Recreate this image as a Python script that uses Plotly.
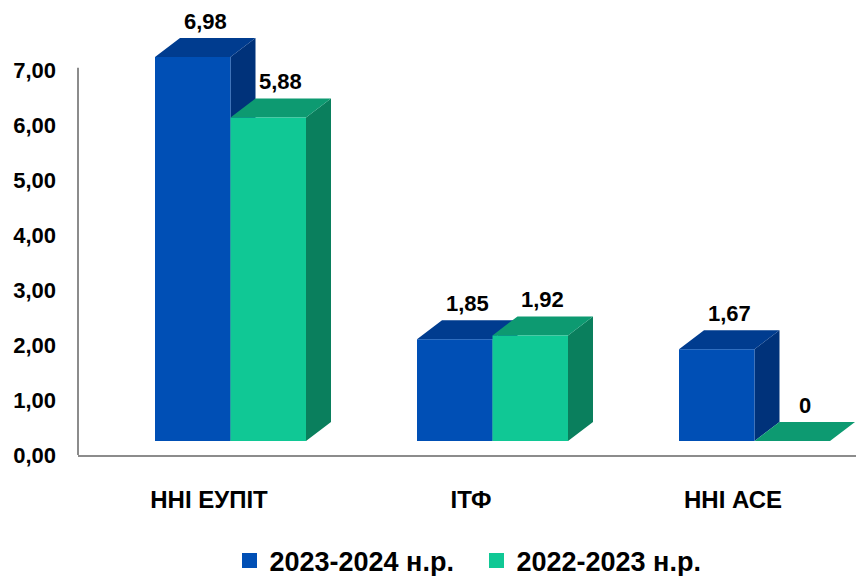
import plotly.graph_objects as go

# данні
categories = ["ННІ ЕУПІТ", "ІТФ", "ННІ АСЕ"]
series_names = ["2023-2024 н.р.", "2022-2023 н.р."]
values_2324 = [6.98, 1.85, 1.67]
values_2223 = [5.88, 1.92, 0]
y_ticks = [0, 1, 2, 3, 4, 5, 6, 7]

# сторінка має відступ body 8px, тому фігура на 8px менша
W, H = 856, 568
M_L, M_R, M_T, M_B = 70, 0, 0, 121
PX_X = (W - M_L - M_R) / len(categories)   # пікселів на категорію
PX_Y = 55                                 # пікселів на одиницю значення
Y_TOP = (H - M_T - M_B) / PX_Y
FLOOR = 14 / PX_Y                         # стовпці трохи вище осі
DX, DY = 25 / PX_X, 19 / PX_Y             # глибина
BAR_W = 75.5 / PX_X
OFFSETS = [-54 / PX_X, 21.5 / PX_X]

colors = [
    dict(front="#004FB5", top="#003C8F", side="#00327A"),
    dict(front="#10C895", top="#0D9A71", side="#0A7F5D"),
]

FONT = "Liberation Sans, Arial, sans-serif"

fig = go.Figure()
annotations = []

for s, vals in enumerate([values_2324, values_2223]):
    c = colors[s]
    faces = {"side": ([], []), "top": ([], []), "front": ([], [])}
    for i, v in enumerate(vals):
        x0 = i + OFFSETS[s]
        x1 = x0 + BAR_W
        fx, fy = faces["front"]
        fx += [x0, x1, x1, x0, x0, None]
        fy += [0, 0, v, v, 0, None]
        tx, ty = faces["top"]
        tx += [x0, x1, x1 + DX, x0 + DX, x0, None]
        ty += [v, v, v + DY, v + DY, v, None]
        sx, sy = faces["side"]
        sx += [x1, x1 + DX, x1 + DX, x1, x1, None]
        sy += [0, DY, v + DY, v, 0, None]
        annotations.append(dict(
            x=x0 + BAR_W / 2 + DX / 2, y=v + DY, xref="x", yref="y2",
            text=f"{v:.2f}".replace(".", ",") if v else "0",
            showarrow=False, yanchor="middle", yshift=17,
            font=dict(family=FONT, size=22, color="black", weight="bold"),
        ))
    for face in ["side", "top", "front"]:
        xs, ys = faces[face]
        fig.add_trace(go.Scatter(
            x=xs, y=ys, yaxis="y2", mode="lines", fill="toself",
            fillcolor=c[face], line=dict(width=0, color=c[face]),
            showlegend=False, hoverinfo="skip",
        ))

# елементи легенди
for s, name in enumerate(series_names):
    fig.add_trace(go.Scatter(
        x=[None], y=[None], mode="markers", name=name,
        marker=dict(symbol="square", size=15, color=colors[s]["front"]),
    ))

fig.add_shape(type="line", xref="paper", yref="y", x0=0, x1=0, y0=0, y1=7.04,
              line=dict(color="#8C8C8C", width=2))

fig.update_layout(
    width=W, height=H,
    margin=dict(l=M_L, r=M_R, t=M_T, b=M_B, autoexpand=False),
    plot_bgcolor="white", paper_bgcolor="white",
    separators=", ",
    font=dict(family=FONT, size=22, color="black", weight="bold"),
    xaxis=dict(
        range=[-0.5, len(categories) - 0.5], tickvals=list(range(len(categories))),
        ticktext=categories, showgrid=False, zeroline=False,
        showline=True, linecolor="#8C8C8C", linewidth=2,
        ticks="", ticklabelstandoff=22, automargin=False,
        tickfont=dict(size=24),
    ),
    yaxis=dict(
        range=[0, Y_TOP], tickvals=y_ticks, tickformat=".2f",
        showgrid=False, zeroline=False, showline=False,
        ticks="", ticklabelstandoff=21, automargin=False,
    ),
    yaxis2=dict(range=[-FLOOR, Y_TOP - FLOOR], overlaying="y", visible=False),
    legend=dict(orientation="h", x=0.507, xanchor="center", y=-0.237, yanchor="middle",
                font=dict(size=27), itemwidth=30, entrywidth=202),
    annotations=annotations,
)

fig.write_html("out.html")
